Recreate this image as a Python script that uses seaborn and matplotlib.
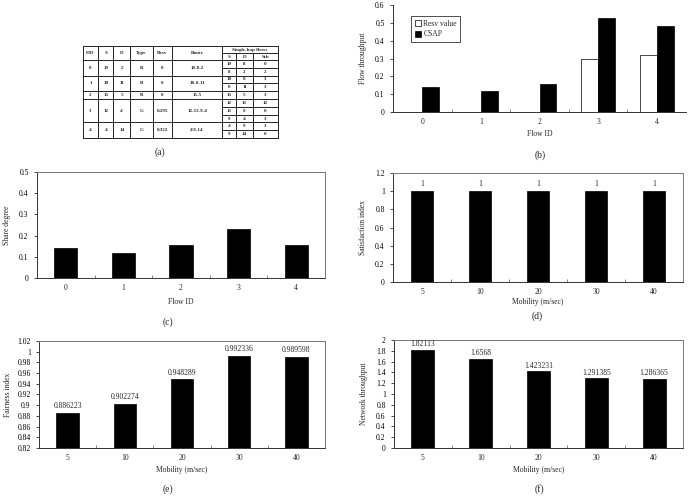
import numpy as np
import pandas as pd
import matplotlib
matplotlib.use("Agg")
import matplotlib.pyplot as plt
import seaborn as sns
from matplotlib.ticker import FuncFormatter, FixedLocator

# ---------------- data ----------------
flow_ids = ["0", "1", "2", "3", "4"]
resv_value = [0, 0, 0, 0.295, 0.322]
csap_throughput = [0.140, 0.120, 0.157, 0.527, 0.484]
share_degree = [0.142, 0.118, 0.157, 0.229, 0.157]
mobility = ["5", "10", "20", "30", "40"]
satisfaction = [1, 1, 1, 1, 1]
fairness = [0.886223, 0.902274, 0.948289, 0.992336, 0.989598]
network_tp = [1.82113, 1.6568, 1.423231, 1.291385, 1.286365]

# table (a)
tbl_fid = ["0", "1", "2", "3", "4"]
tbl_src = ["19", "10", "15", "12", "4"]
tbl_dst = ["2", "11", "5", "4", "14"]
tbl_type = ["B", "B", "B", "G", "G"]
tbl_resv = ["0", "0", "0", "0.295", "0.322"]
tbl_route = ["19-8-2", "10-0-11", "15-5", "12-13-9-4", "4-9-14"]
hop_s = [["19", "8"], ["10", "0"], ["15"], ["12", "13", "9"], ["4", "9"]]
hop_d = [["8", "2"], ["0", "11"], ["5"], ["13", "9", "4"], ["9", "14"]]
hop_sch = [["0", "2"], ["3", "3"], ["3"], ["12", "0", "3"], ["3", "0"]]

sns.set_theme(style="ticks")
plt.rcParams["font.family"] = ["Liberation Serif", "DejaVu Serif"]

W, H = 690, 496
fig = plt.figure(figsize=(W / 100, H / 100), dpi=100)
fig.patch.set_facecolor("white")

def px_axes(left, top, right, bottom):
    return fig.add_axes([left / W, 1 - bottom / H, (right - left) / W, (bottom - top) / H])

FS = 5.5
fmt = FuncFormatter(lambda v, p: ("%.2f" % v).rstrip("0").rstrip("."))

def style_axes(ax, yticks, frame=True):
    ax.set_ylim(yticks[0], yticks[-1])
    ax.yaxis.set_major_locator(FixedLocator(yticks))
    ax.yaxis.set_major_formatter(fmt)
    ax.tick_params(axis="y", length=2, width=0.5, direction="out", labelsize=FS, pad=4, colors="black")
    ax.tick_params(axis="x", which="major", length=0, labelsize=FS, pad=4.5)
    ax.xaxis.set_minor_locator(FixedLocator([0.5, 1.5, 2.5, 3.5]))
    ax.tick_params(axis="x", which="minor", length=2, width=0.5, direction="in", color="#555555")
    for s in ["left", "bottom"]:
        ax.spines[s].set_color("#333333")
        ax.spines[s].set_linewidth(0.7)
    for s in ["top", "right"]:
        ax.spines[s].set_visible(frame)
        ax.spines[s].set_color("#777777")
        ax.spines[s].set_linewidth(0.7)
    ax.set_facecolor("white")

# ---------------- (b) ----------------
axb = px_axes(393, 5, 686, 112)
df_b = pd.DataFrame({
    "Flow ID": flow_ids * 2,
    "value": resv_value + csap_throughput,
    "series": ["Resv value"] * 5 + ["CSAP"] * 5,
})
sns.barplot(data=df_b, x="Flow ID", y="value", hue="series", ax=axb,
            palette={"Resv value": "white", "CSAP": "black"},
            edgecolor="black", linewidth=0.5, width=0.58, gap=0, saturation=1)
style_axes(axb, [0, 0.1, 0.2, 0.3, 0.4, 0.5, 0.6], frame=False)
axb.set_xlabel("Flow ID", fontsize=FS, labelpad=2.5)
axb.set_ylabel("Flow throughput", fontsize=FS, labelpad=6)
leg = axb.legend(loc="upper left", bbox_to_anchor=(0.05, 0.93), fontsize=FS,
                 frameon=True, fancybox=False, edgecolor="black",
                 handlelength=0.8, handleheight=0.8, handletextpad=0.3,
                 borderpad=0.45, labelspacing=0.35)
leg.get_frame().set_linewidth(0.6)

# ---------------- (c) ----------------
axc = px_axes(37, 172, 325, 278)
sns.barplot(x=flow_ids, y=share_degree, ax=axc, color="black", saturation=1,
            edgecolor="black", linewidth=0.5, width=0.4)
style_axes(axc, [0, 0.1, 0.2, 0.3, 0.4, 0.5])
axc.set_xlabel("Flow ID", fontsize=FS, labelpad=4)
axc.set_ylabel("Share degree", fontsize=FS, labelpad=6)

# ---------------- (d) ----------------
axd = px_axes(393, 173, 683, 282)
sns.barplot(x=mobility, y=satisfaction, ax=axd, color="black", saturation=1,
            edgecolor="black", linewidth=0.5, width=0.38)
style_axes(axd, [0, 0.2, 0.4, 0.6, 0.8, 1.0, 1.2])
axd.bar_label(axd.containers[0], labels=[str(v) for v in satisfaction], padding=2, fontsize=FS)
axd.set_xlabel("Mobility (m/sec)", fontsize=FS, labelpad=1)
axd.set_ylabel("Satisfaction index", fontsize=FS, labelpad=6)

# ---------------- (e) ----------------
axe = px_axes(39, 341, 325, 448)
sns.barplot(x=mobility, y=fairness, ax=axe, color="black", saturation=1,
            edgecolor="black", linewidth=0.5, width=0.39)
style_axes(axe, [0.82, 0.84, 0.86, 0.88, 0.90, 0.92, 0.94, 0.96, 0.98, 1.0, 1.02])
axe.bar_label(axe.containers[0], labels=[str(v) for v in fairness], padding=2, fontsize=FS)
axe.set_xlabel("Mobility (m/sec)", fontsize=FS, labelpad=3)
axe.set_ylabel("Fairness index", fontsize=FS, labelpad=4)

# ---------------- (f) ----------------
axf = px_axes(394, 340, 683, 448)
sns.barplot(x=mobility, y=network_tp, ax=axf, color="black", saturation=1,
            edgecolor="black", linewidth=0.5, width=0.4)
style_axes(axf, [0, 0.2, 0.4, 0.6, 0.8, 1.0, 1.2, 1.4, 1.6, 1.8, 2.0])
axf.bar_label(axf.containers[0], labels=[str(v) for v in network_tp], padding=1, fontsize=FS)
axf.set_xlabel("Mobility (m/sec)", fontsize=FS, labelpad=3)
axf.set_ylabel("Network throughput", fontsize=FS, labelpad=6)

# ---------------- (a) table ----------------
axt = fig.add_axes([0, 0, 1, 1], zorder=-1)
axt.set_xlim(0, W)
axt.set_ylim(H, 0)
axt.axis("off")
xs = [82.7, 98.3, 113.3, 130, 152.7, 171.7, 222.3, 236, 253, 277.7]
top, title_split, head_bot, sub_h = 46, 53, 60, 7.8
lw = 0.6
TFS = 3.6
bottom = head_bot + sum(len(s) for s in hop_s) * sub_h
for x in xs:
    y0 = title_split if x in (236, 253) else top
    axt.plot([x, x], [y0, bottom], color="black", lw=lw)
axt.plot([xs[0], xs[-1]], [top, top], color="black", lw=lw)
axt.plot([xs[6], xs[-1]], [title_split, title_split], color="black", lw=lw)
axt.plot([xs[0], xs[-1]], [head_bot, head_bot], color="black", lw=lw)
main_heads = ["FID", "S", "D", "Type", "Resv", "Route"]
for i, h in enumerate(main_heads):
    axt.text((xs[i] + xs[i + 1]) / 2, (top + head_bot) / 2, h, ha="center", va="center",
             fontsize=TFS, fontweight="bold")
axt.text((xs[6] + xs[9]) / 2, (top + title_split) / 2, "Single-hop flows", ha="center",
         va="center", fontsize=TFS, fontweight="bold")
for i, h in enumerate(["S", "D", "Sch"]):
    axt.text((xs[6 + i] + xs[7 + i]) / 2, (title_split + head_bot) / 2, h, ha="center",
             va="center", fontsize=TFS, fontweight="bold")
y = head_bot
for k in range(len(tbl_fid)):
    n = len(hop_s[k])
    yc = y + n * sub_h / 2
    for i, val in enumerate([tbl_fid[k], tbl_src[k], tbl_dst[k], tbl_type[k], tbl_resv[k], tbl_route[k]]):
        axt.text((xs[i] + xs[i + 1]) / 2, yc, val, ha="center", va="center", fontsize=TFS,
                 fontweight="bold")
    for j in range(n):
        ys = y + (j + 0.5) * sub_h
        for i, val in enumerate([hop_s[k][j], hop_d[k][j], hop_sch[k][j]]):
            axt.text((xs[6 + i] + xs[7 + i]) / 2, ys, val, ha="center", va="center",
                     fontsize=TFS, fontweight="bold")
        if j < n - 1:
            axt.plot([xs[6], xs[-1]], [y + (j + 1) * sub_h] * 2, color="black", lw=lw)
    y += n * sub_h
    axt.plot([xs[0], xs[-1]], [y, y], color="black", lw=lw)

# ---------------- captions ----------------
CFS = 7
for label, cx, cy in [("(a)", 160, 152), ("(b)", 540, 155), ("(c)", 168, 322),
                      ("(d)", 537, 316), ("(e)", 168, 489), ("(f)", 539, 489)]:
    fig.text(cx / W, 1 - cy / H, label, ha="center", va="center", fontsize=CFS)

fig.savefig("out.png", dpi=100, facecolor="white")
